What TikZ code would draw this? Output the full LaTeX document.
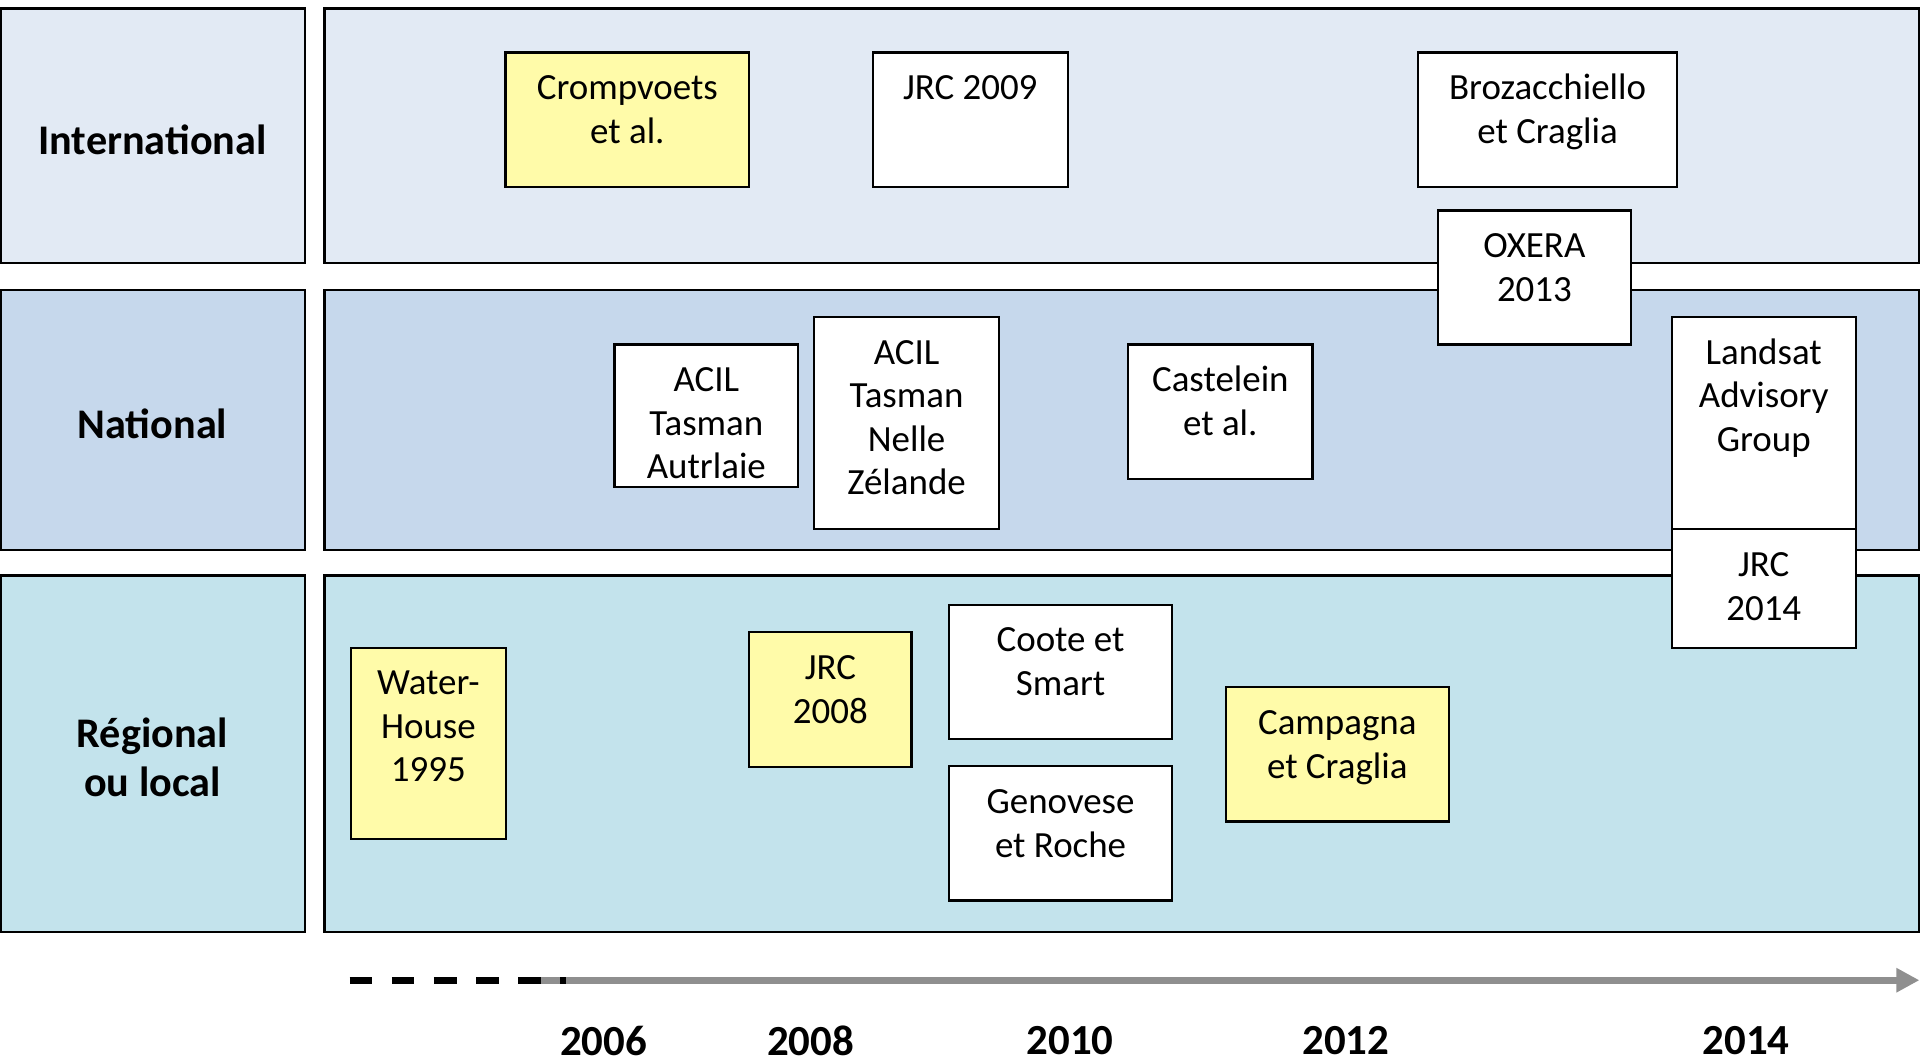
\documentclass[tikz,border=0pt]{standalone}
\usepackage{fontspec}
\setmainfont{Carlito}
\usetikzlibrary{arrows.meta, positioning}
\definecolor{band_intl}{HTML}{E2EAF4}
\definecolor{band_natl}{HTML}{C6D8EC}
\definecolor{band_regl}{HTML}{C3E3EC}
\definecolor{ev_yellow}{HTML}{FFFBA9}
\definecolor{axis_grey}{HTML}{8F8F8F}
\newlength{\pxu}
\setlength{\pxu}{0.012245cm}
% top-anchored box text
\newcommand{\evtext}[3]{\parbox[c][#2\pxu][t]{#1\pxu}{\centering\rule{0pt}{13.4pt}#3\par}}

\begin{document}
\begin{tikzpicture}[x=0.012245cm, y=-0.012245cm,
    band/.style={draw, line width=0.65pt},
    lab/.style={font=\fontsize{12}{14}\selectfont\bfseries, align=center},
    ev/.style={draw, line width=0.6pt, fill=white, inner sep=0pt, anchor=north west,
               font=\fontsize{10.5}{12.4}\selectfont},
    evy/.style={ev, fill=ev_yellow},
    yr/.style={font=\fontsize{12.2}{14}\selectfont\bfseries}]
  \useasboundingbox (0,0) rectangle (1568,866.5);

  % bands
  \draw[band, fill=band_intl] (0.6,7) rectangle (249,214.5);
  \draw[band, fill=band_intl] (265,7) rectangle (1567,214.5);
  \draw[band, fill=band_natl] (0.6,237) rectangle (249,449);
  \draw[band, fill=band_natl] (265,237) rectangle (1567,449);
  \draw[band, fill=band_regl] (0.6,470) rectangle (249,761);
  \draw[band, fill=band_regl] (265,470) rectangle (1567,761);

  \node[lab] (intl) at (124.5,114) {International};
  \node[lab] (natl) at (124.5,346) {National};
  \node[lab] (regl) at (124.5,618.5) {Régional\\ou local};

  % time axis
  \coordinate (t0) at (285.5,800.5);
  \coordinate (t1) at (442,800.5);
  \coordinate (t2) at (462,800.5);
  \coordinate (tend) at (1567.5,800.5);
  \draw[axis_grey, line width=2pt, -{Triangle[length=0.23cm, width=0.23cm]}] (t1) -- (tend);
  \draw[black, line width=2pt, dash pattern=on 6.43pt off 5.56pt] (t0) -- (t2);

  \node[yr] (y06) at (493,850) {2006};
  \node[yr] (y08) at (662,850) {2008};
  \node[yr] (y10) at (874,850) {2010};
  \node[yr] (y12) at (1099,850) {2012};
  \node[yr] (y14) at (1426,850) {2014};

  % international
  \node[evy] (crompvoets) at (412,42) {\evtext{199}{109.5}{Crompvoets\\et al.}};
  \node[ev] (jrc09) at (712,42) {\evtext{159}{109.5}{JRC 2009}};
  \node[ev] (brozacchiello) at (1157.5,42) {\evtext{211}{109.5}{Brozacchiello\\et Craglia}};
  \node[ev] (oxera) at (1173.5,171) {\evtext{157.5}{109.5}{OXERA\\2013}};

  % national
  \node[ev] (acilau) at (501,280.5) {\evtext{150}{116.5}{ACIL\\Tasman\\Autrlaie}};
  \node[ev] (acilnz) at (664,258) {\evtext{151}{173.5}{ACIL\\Tasman\\Nelle\\Zélande}};
  \node[ev] (castelein) at (920.5,280.5) {\evtext{150.5}{109.5}{Castelein\\et al.}};
  \node[ev] (landsat) at (1364.5,258) {\evtext{150}{173.5}{Landsat\\Advisory\\Group}};
  \node[ev] (jrc14) at (1364.5,431.5) {\evtext{150}{96.5}{JRC\\2014}};

  % regional
  \node[evy] (waterhouse) at (285.5,528) {\evtext{127}{156.5}{Water-\\House\\1995}};
  \node[evy] (jrc08) at (611,515.5) {\evtext{132.5}{110}{JRC\\2008}};
  \node[ev] (coote) at (774,493) {\evtext{182.5}{110}{Coote et\\Smart}};
  \node[ev] (genovese) at (774,625) {\evtext{182.5}{109.5}{Genovese\\et Roche}};
  \node[evy] (campagna) at (1000,560.5) {\evtext{182.5}{109.5}{Campagna\\et Craglia}};
\end{tikzpicture}
\end{document}
